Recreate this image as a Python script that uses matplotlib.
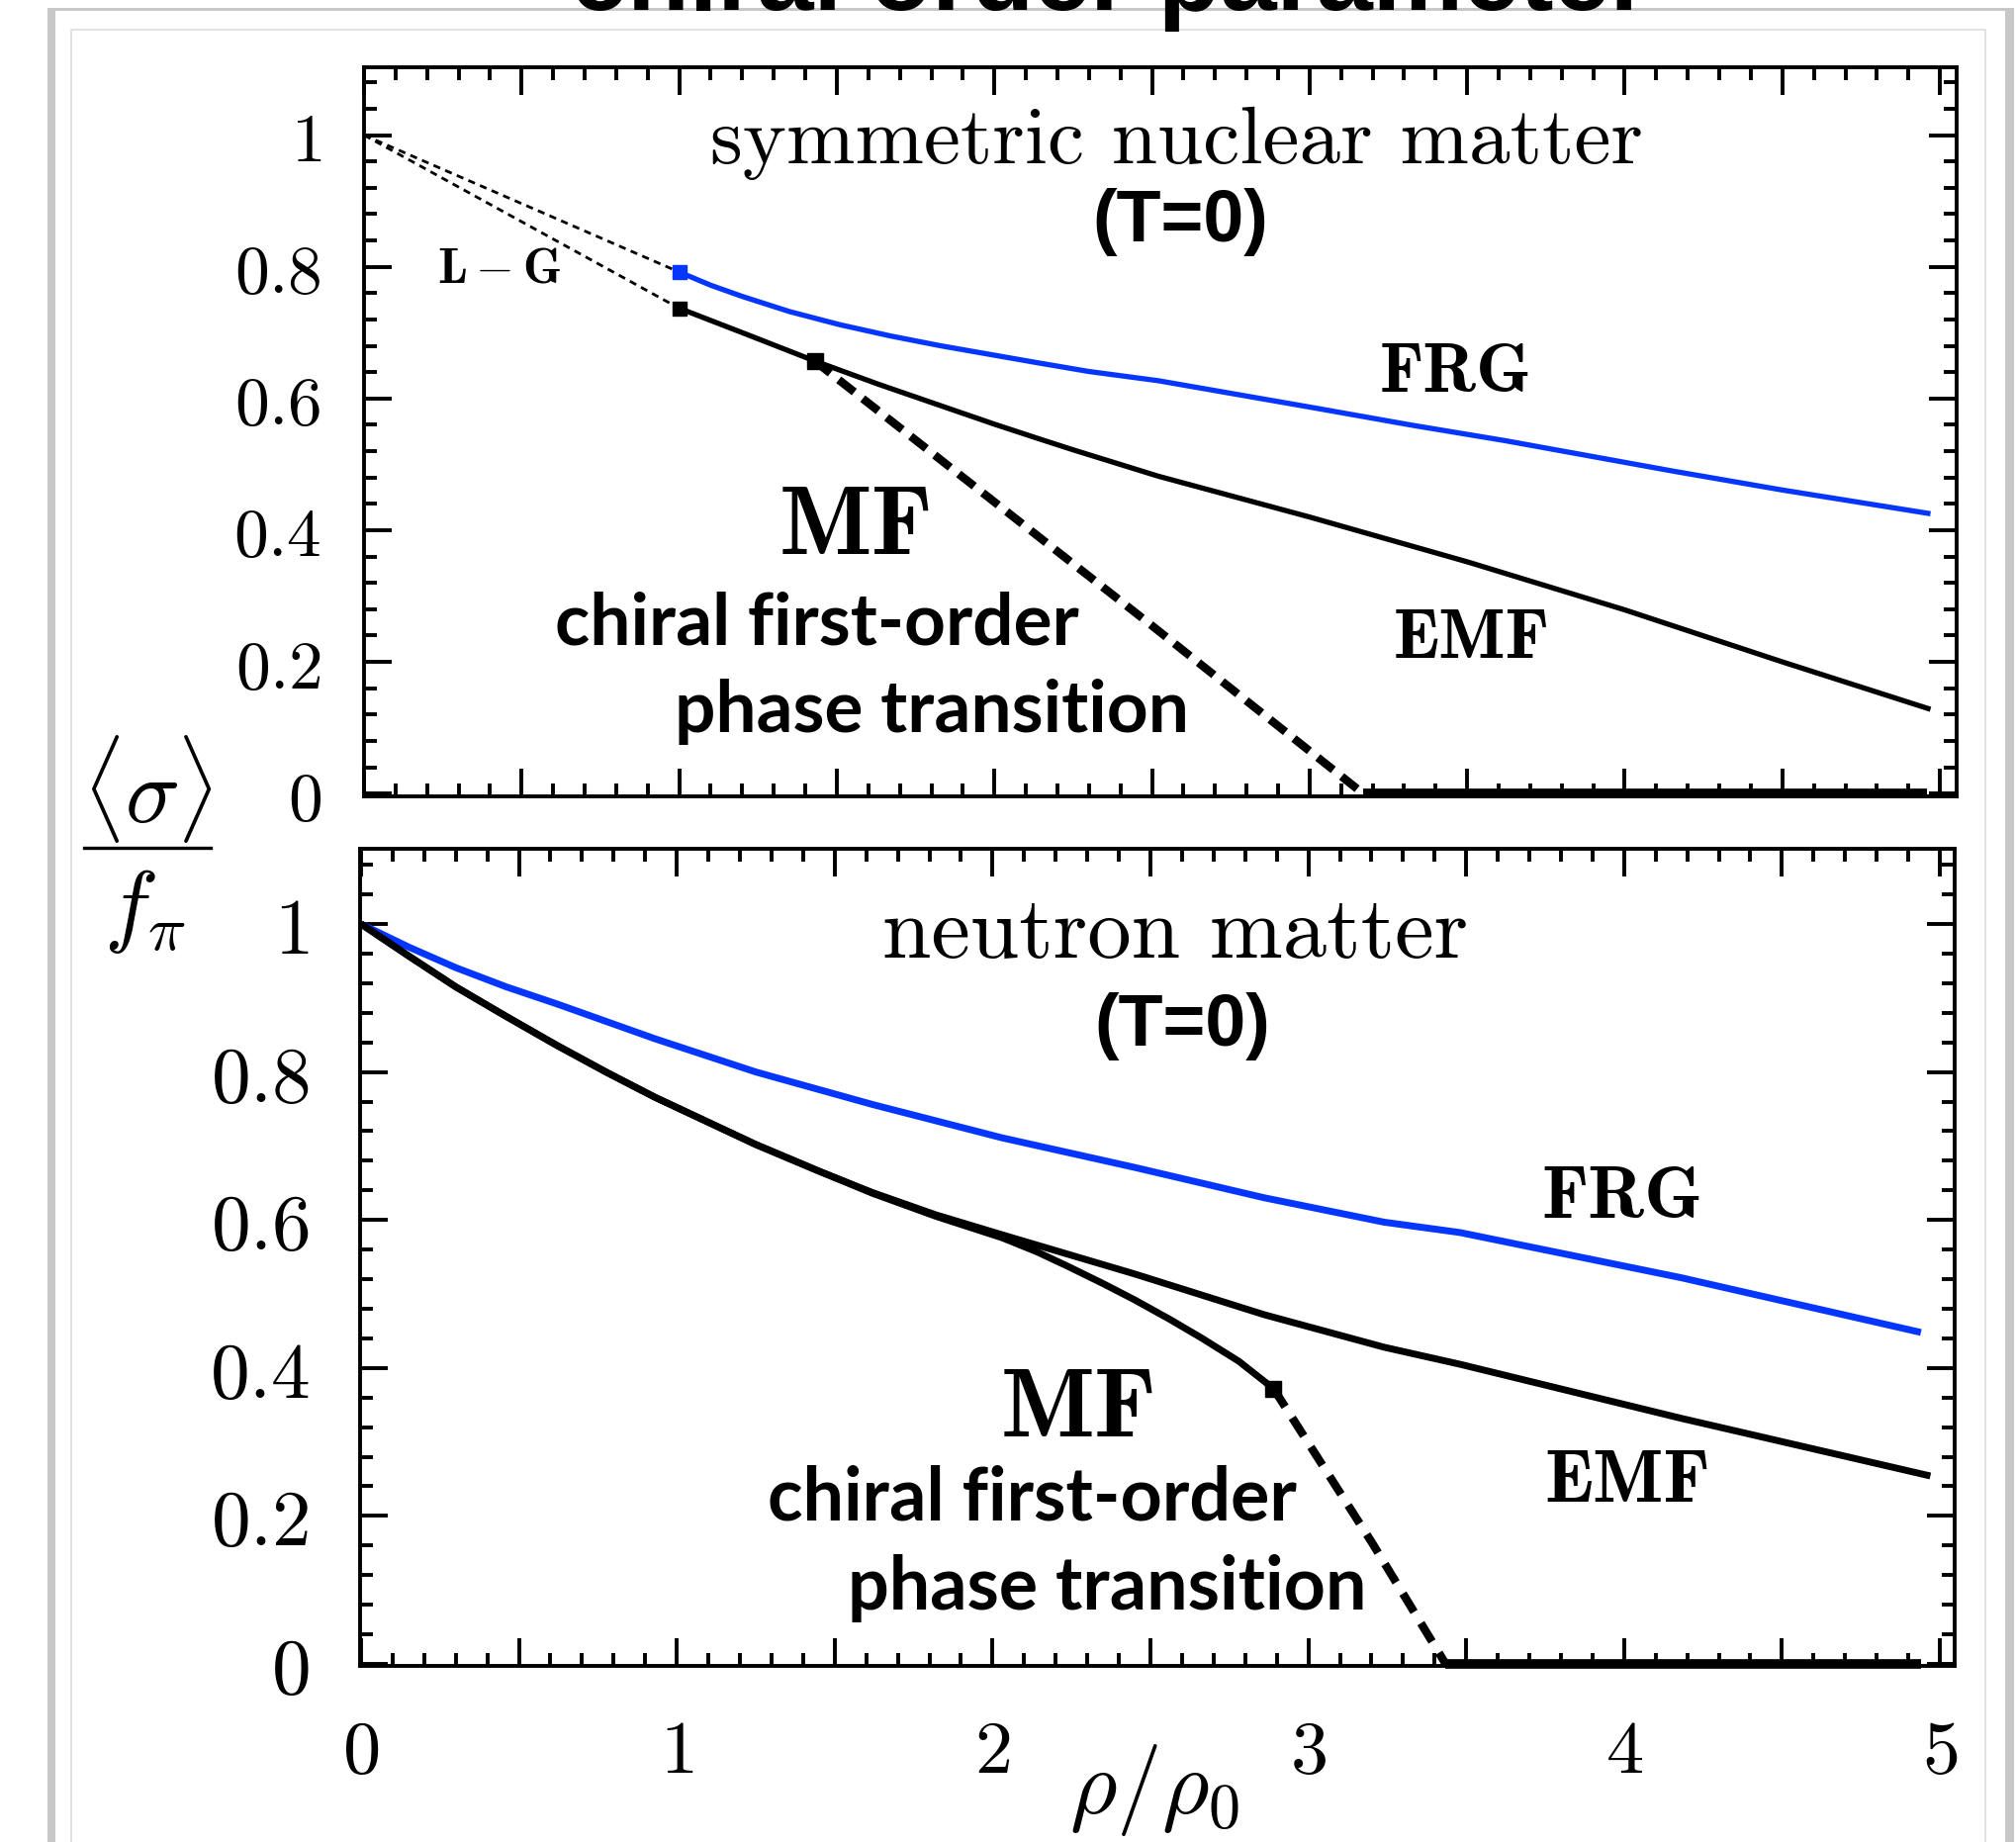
import matplotlib
matplotlib.use("Agg")
import matplotlib.pyplot as plt
from matplotlib.patches import Rectangle
from matplotlib.lines import Line2D
from matplotlib.ticker import MultipleLocator, FixedLocator, FixedFormatter

plt.rcParams['mathtext.fontset'] = 'cm'

# ---------------- data ----------------
# symmetric nuclear matter (T=0)
snm_lg_x = [0.0, 1.0]
snm_lg_frg_y = [1.0, 0.792]
snm_lg_emf_y = [1.0, 0.737]

snm_frg_x = [1.0, 1.1, 1.2, 1.35, 1.51, 1.67, 1.83, 2.14, 2.3, 2.52, 3.0, 3.33, 3.62, 4.15, 4.5, 4.97]
snm_frg_y = [0.792, 0.772, 0.755, 0.732, 0.712, 0.695, 0.680, 0.654, 0.641, 0.627, 0.587,
             0.559, 0.536, 0.490, 0.461, 0.425]

snm_emf_x = [1.0, 1.2, 1.43, 1.63, 1.83, 2.0, 2.14, 2.25, 2.52, 3.0, 3.5, 4.0, 4.5, 4.97]
snm_emf_y = [0.737, 0.700, 0.657, 0.622, 0.589, 0.561, 0.539, 0.522, 0.482, 0.420, 0.352,
             0.279, 0.200, 0.128]

snm_mf_trans_x = [1.43, 2.5, 3.17]
snm_mf_trans_y = [0.657, 0.255, 0.0]
snm_mf_zero_x = [3.17, 4.96]
snm_mf_zero_y = [0.0, 0.0]

# neutron matter (T=0)
nm_frg_x = [0.0, 0.15, 0.3, 0.46, 0.62, 0.93, 1.25, 1.62, 2.03, 2.45, 2.86, 3.24, 3.48,
            4.18, 4.94]
nm_frg_y = [1.0, 0.969, 0.941, 0.915, 0.892, 0.845, 0.800, 0.756, 0.711, 0.671, 0.630,
            0.597, 0.583, 0.522, 0.448]

nm_emf_x = [0.0, 0.15, 0.3, 0.46, 0.62, 0.78, 0.93, 1.1, 1.25, 1.45, 1.62, 1.82, 2.03,
            2.45, 2.86, 3.24, 3.48, 4.18, 4.97]
nm_emf_y = [1.0, 0.957, 0.915, 0.875, 0.836, 0.799, 0.766, 0.732, 0.702, 0.666, 0.637,
            0.607, 0.580, 0.527, 0.472, 0.428, 0.405, 0.332, 0.254]

nm_mf_x = [0.0, 0.15, 0.3, 0.46, 0.62, 0.78, 0.93, 1.1, 1.25, 1.45, 1.62, 1.82, 2.03,
           2.14, 2.24, 2.35, 2.45, 2.56, 2.66, 2.78, 2.89]
nm_mf_y = [1.0, 0.957, 0.915, 0.875, 0.836, 0.799, 0.766, 0.732, 0.702, 0.666, 0.636,
           0.605, 0.576, 0.557, 0.537, 0.514, 0.492, 0.466, 0.441, 0.409, 0.372]

nm_mf_trans_x = [2.89, 3.2, 3.435]
nm_mf_trans_y = [0.372, 0.165, 0.0]
nm_mf_zero_x = [3.435, 4.94]
nm_mf_zero_y = [0.0, 0.0]

y_ticks = [0.0, 0.2, 0.4, 0.6, 0.8, 1.0]
y_tick_labels = ['$0$', '$0.2$', '$0.4$', '$0.6$', '$0.8$', '$1$']
x_ticks = [0, 0.5, 1, 1.5, 2, 2.5, 3, 3.5, 4, 4.5, 5]
x_tick_labels = ['$0$', '', '$1$', '', '$2$', '', '$3$', '', '$4$', '', '$5$']

BLUE = '#0536ff'

# ---------------- figure ----------------
W, H = 2038, 1862
fig = plt.figure(figsize=(W / 100, H / 100), dpi=100)


def fx(px):
    return px / W


def fy(py):
    return 1 - py / H


# slide-style frame with a soft shadow, kept behind the axes
frame_kw = dict(transform=fig.transFigure, zorder=-10)
fig.patches.append(Rectangle((fx(48), fy(1900)), fx(2036) - fx(48), fy(8) - fy(1900),
                             facecolor='#c8c8c8', edgecolor='none', **frame_kw))
fig.patches.append(Rectangle((fx(56), fy(1900)), fx(2027) - fx(56), fy(11) - fy(1900),
                             facecolor='white', edgecolor='none', **frame_kw))
fig.patches.append(Rectangle((fx(72), fy(1900)), fx(2007) - fx(72), fy(30) - fy(1900),
                             facecolor='white', edgecolor='#e2e2e2', lw=1.4, **frame_kw))

fig.text(fx(1122), fy(10), 'chiral order parameter', ha='center', va='baseline',
         fontsize=74, fontweight='bold', family='Liberation Sans', zorder=5)

ax1 = fig.add_axes([fx(368), fy(805), fx(1978) - fx(368), fy(68) - fy(805)], zorder=2)
ax2 = fig.add_axes([fx(364), fy(1684), fx(1976) - fx(364), fy(858) - fy(1684)], zorder=2)
for a in (ax1, ax2):
    a.patch.set_alpha(0.0)


def style_axes(ax, ylab_size, ypad):
    ax.xaxis.set_major_locator(FixedLocator(x_ticks))
    ax.xaxis.set_major_formatter(FixedFormatter(x_tick_labels))
    ax.xaxis.set_minor_locator(MultipleLocator(0.1))
    ax.yaxis.set_major_locator(FixedLocator(y_ticks))
    ax.yaxis.set_major_formatter(FixedFormatter(y_tick_labels))
    ax.yaxis.set_minor_locator(MultipleLocator(0.04))
    ax.tick_params(which='both', direction='in', top=True, right=True, width=2.8)
    ax.tick_params(which='major', length=20)
    ax.tick_params(which='minor', length=9.5)
    ax.tick_params(axis='y', which='major', labelsize=ylab_size, pad=ypad)
    for s in ax.spines.values():
        s.set_linewidth(2.8)


# ---------- upper panel: symmetric nuclear matter ----------
style_axes(ax1, 50, 31)
ax1.set_xlim(0, 5.053)
ax1.set_ylim(-0.0042, 1.103)
ax1.tick_params(axis='x', labelbottom=False)

dot = dict(color='black', lw=2.0, dashes=(2.6, 2.0))
ax1.plot(snm_lg_x, snm_lg_frg_y, **dot)
ax1.plot(snm_lg_x, snm_lg_emf_y, **dot)
ax1.plot(snm_frg_x, snm_frg_y, color=BLUE, lw=3.8, solid_capstyle='butt')
ax1.plot(snm_emf_x, snm_emf_y, color='black', lw=3.8, solid_capstyle='butt')
ax1.plot(snm_mf_trans_x, snm_mf_trans_y, color='black', lw=6, dashes=(2.4, 1.3))
ax1.plot(snm_mf_zero_x, snm_mf_zero_y, color='black', lw=7, solid_capstyle='butt',
         clip_on=False)
ax1.plot([snm_frg_x[0]], [snm_frg_y[0]], 's', color=BLUE, ms=10)
ax1.plot([snm_emf_x[0]], [snm_emf_y[0]], 's', color='black', ms=10)
ax1.plot([snm_mf_trans_x[0]], [snm_mf_trans_y[0]], 's', color='black', ms=11)

ax1.text(2.577, 0.958, 'symmetric nuclear matter', family='cmr10', fontsize=60,
         ha='center', va='baseline')
ax1.text(2.59, 0.838, '(T=0)', family='Liberation Sans', fontweight='bold',
         fontsize=53, ha='center', va='baseline')
ax1.text(0.43, 0.797, r'$\mathbf{L}-\mathbf{G}$', fontsize=36, ha='center', va='center')
ax1.text(3.464, 0.636, 'FRG', family='cmb10', fontsize=51, ha='center', va='center')
ax1.text(3.514, 0.232, 'EMF', family='cmb10', fontsize=51, ha='center', va='center')
ax1.text(1.56, 0.402, 'MF', family='cmb10', fontsize=71, ha='center', va='center')
ax1.text(1.436, 0.226, 'chiral first-order', family='Lato', fontweight='bold',
         fontsize=52.5, ha='center', va='baseline')
ax1.text(1.802, 0.0935, 'phase transition', family='Lato', fontweight='bold',
         fontsize=52.5, ha='center', va='baseline')

# ---------- lower panel: neutron matter ----------
style_axes(ax2, 57, 37)
ax2.set_xlim(-0.003, 5.047)
ax2.set_ylim(-0.0027, 1.1016)
ax2.tick_params(axis='x', which='major', labelsize=55, pad=36)

ax2.plot(nm_frg_x, nm_frg_y, color=BLUE, lw=5.0, solid_capstyle='butt')
ax2.plot(nm_emf_x, nm_emf_y, color='black', lw=5.0, solid_capstyle='butt')
ax2.plot(nm_mf_x, nm_mf_y, color='black', lw=5.0, solid_capstyle='butt')
ax2.plot(nm_mf_trans_x, nm_mf_trans_y, color='black', lw=6, dashes=(2.6, 1.6))
ax2.plot(nm_mf_zero_x, nm_mf_zero_y, color='black', lw=7, solid_capstyle='butt',
         clip_on=False)
ax2.plot([nm_mf_x[-1]], [nm_mf_y[-1]], 's', color='black', ms=11)

ax2.text(2.578, 0.955, 'neutron matter', family='cmr10', fontsize=64,
         ha='center', va='baseline')
ax2.text(2.60, 0.836, '(T=0)', family='Liberation Sans', fontweight='bold',
         fontsize=53, ha='center', va='baseline')
ax2.text(3.993, 0.627, 'FRG', family='cmb10', fontsize=54, ha='center', va='center')
ax2.text(4.009, 0.244, 'EMF', family='cmb10', fontsize=54, ha='center', va='center')
ax2.text(2.274, 0.341, 'MF', family='cmb10', fontsize=72, ha='center', va='center')
ax2.text(2.127, 0.195, 'chiral first-order', family='Lato', fontweight='bold',
         fontsize=53, ha='center', va='baseline')
ax2.text(2.362, 0.0735, 'phase transition', family='Lato', fontweight='bold',
         fontsize=53, ha='center', va='baseline')

# shared y label written as a stacked fraction
fig.text(fx(149), fy(797), r'$\langle\sigma\rangle$', fontsize=66, ha='center',
         va='center')
fig.text(fx(147), fy(921), r'$f_\pi$', fontsize=66, ha='center', va='center')
fig.add_artist(Line2D([fx(85), fx(213)], [fy(857), fy(857)], transform=fig.transFigure,
                      color='black', lw=2.4))

fig.text(fx(1167), fy(1810), r'$\rho/\rho_0$', fontsize=66, ha='center', va='center')

fig.savefig('out.png', dpi=100)
